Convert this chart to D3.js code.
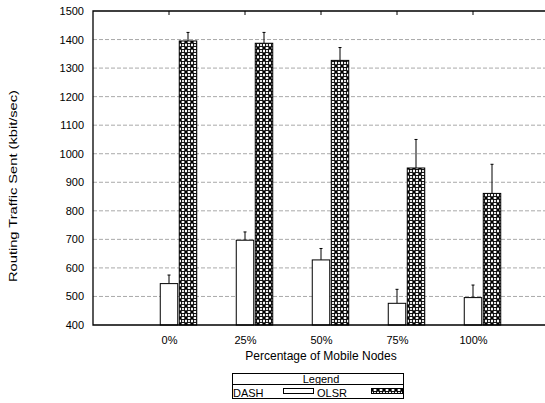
<!DOCTYPE html>
<html>
<head>
<meta charset="utf-8">
<script src="https://cdn.jsdelivr.net/npm/d3@7"></script>
<style>
  body { margin: 0; background: #fff; }
  text { font-family: "Liberation Sans", Arial, sans-serif; fill: #000; }
</style>
</head>
<body>
<svg class="chart" width="545" height="403"></svg>
<script>
const categories = ['0%', '25%', '50%', '75%', '100%']
const dashValues = [545, 697, 628, 476, 496]
const dashErrors = [30, 29, 40, 49, 44]
const olsrValues = [1395, 1387, 1327, 950, 861]
const olsrErrors = [30, 38, 45, 100, 102]
const yTicks = [400, 500, 600, 700, 800, 900, 1000, 1100, 1200, 1300, 1400, 1500]

const svg = d3.select('.chart')
const x = d3.scaleLinear().domain([-1, 5]).range([93, 549])
const y = d3.scaleLinear().domain([400, 1500]).range([325, 11])
const barWidth = x(0.23) - x(0)

// checkered fill like the gnuplot pattern
const pat = svg.append('defs').append('pattern')
  .attr('id', 'checks')
  .attr('patternUnits', 'userSpaceOnUse')
  .attr('width', 6)
  .attr('height', 6)
pat.append('rect').attr('width', 6).attr('height', 6).attr('fill', '#fff')
pat.append('path')
  .attr('d', 'M0,0L6,6M6,0L0,6')
  .attr('stroke', '#000')
  .attr('stroke-width', 1.6)
pat.append('circle').attr('cx', 3).attr('cy', 3).attr('r', 1.6).attr('fill', '#fff').attr('stroke', '#000').attr('stroke-width', 0.9)

// grid
svg.append('g')
  .selectAll('line')
  .data(yTicks.filter(d => d > 400 && d < 1500))
  .enter()
  .append('line')
  .attr('x1', x(-1))
  .attr('x2', x(5))
  .attr('y1', d => y(d))
  .attr('y2', d => y(d))
  .attr('stroke', '#aaa')
  .attr('stroke-dasharray', '4,2')

const yAxis = svg.append('g')
  .attr('transform', `translate(${x(-1)},0)`)
  .call(d3.axisLeft(y).tickValues(yTicks).tickSize(0).tickPadding(9).tickFormat(d3.format('d')))
yAxis.select('.domain').remove()
yAxis.selectAll('text').attr('font-size', '11px').attr('font-family', null)

const xAxis = svg.append('g')
  .attr('transform', `translate(0,${y(400)})`)
  .call(d3.axisBottom(x).tickValues(d3.range(categories.length)).tickSize(0).tickPadding(11)
    .tickFormat(i => categories[i]))
xAxis.select('.domain').remove()
xAxis.selectAll('text').attr('font-size', '11px').attr('font-family', null)

// top ticks
svg.append('g')
  .selectAll('line')
  .data(categories)
  .enter()
  .append('line')
  .attr('x1', (d, i) => x(i))
  .attr('x2', (d, i) => x(i))
  .attr('y1', y(1500))
  .attr('y2', y(1500) + 4)
  .attr('stroke', '#000')

function drawSeries(values, errors, offset, fill) {
  const g = svg.append('g')
  g.selectAll('line.err')
    .data(values)
    .enter()
    .append('line')
    .attr('class', 'err')
    .attr('x1', (d, i) => x(i + offset))
    .attr('x2', (d, i) => x(i + offset))
    .attr('y1', d => y(d))
    .attr('y2', (d, i) => y(d + errors[i]))
    .attr('stroke', '#000')
  g.selectAll('line.cap')
    .data(values)
    .enter()
    .append('line')
    .attr('class', 'cap')
    .attr('x1', (d, i) => x(i + offset) - 1.5)
    .attr('x2', (d, i) => x(i + offset) + 1.5)
    .attr('y1', (d, i) => y(d + errors[i]))
    .attr('y2', (d, i) => y(d + errors[i]))
    .attr('stroke', '#000')
  g.selectAll('rect')
    .data(values)
    .enter()
    .append('rect')
    .attr('x', (d, i) => x(i + offset) - barWidth / 2)
    .attr('width', barWidth)
    .attr('y', d => y(d))
    .attr('height', d => y(400) - y(d))
    .attr('fill', fill)
    .attr('stroke', '#000')
}
drawSeries(dashValues, dashErrors, 0, '#fff')
drawSeries(olsrValues, olsrErrors, 0.25, 'url(#checks)')

// border
svg.append('path')
  .attr('d', `M${x(5)},${y(1500)}H${x(-1)}V${y(400)}H${x(5)}`)
  .attr('fill', 'none')
  .attr('stroke', '#000')
  .attr('stroke-width', 1.3)

svg.append('text')
  .text('Percentage of Mobile Nodes')
  .attr('x', 321)
  .attr('y', 360)
  .attr('text-anchor', 'middle')
  .attr('font-size', '12px')

svg.append('text')
  .text('Routing Traffic Sent (kbit/sec)')
  .attr('transform', 'translate(17,186) rotate(-90)')
  .attr('text-anchor', 'middle')
  .attr('font-size', '11px')
  .attr('textLength', 192)
  .attr('lengthAdjust', 'spacingAndGlyphs')

// legend
const legend = svg.append('g')
legend.append('rect')
  .attr('x', 232.5).attr('y', 373.5).attr('width', 171).attr('height', 25)
  .attr('fill', 'none').attr('stroke', '#000')
legend.append('line')
  .attr('x1', 232.5).attr('x2', 403.5).attr('y1', 384.5).attr('y2', 384.5)
  .attr('stroke', '#000')
legend.append('text')
  .text('Legend')
  .attr('x', 321).attr('y', 382.5)
  .attr('text-anchor', 'middle')
  .attr('font-size', '11px')
legend.append('text').text('DASH').attr('x', 233).attr('y', 396.5).attr('font-size', '11px')
legend.append('rect')
  .attr('x', 283.5).attr('y', 388.5).attr('width', 30).attr('height', 5)
  .attr('fill', '#fff').attr('stroke', '#000')
legend.append('text').text('OLSR').attr('x', 317).attr('y', 396.5).attr('font-size', '11px')
legend.append('rect')
  .attr('x', 371.5).attr('y', 388.5).attr('width', 31).attr('height', 5)
  .attr('fill', 'url(#checks)').attr('stroke', '#000')
</script>
</body>
</html>
